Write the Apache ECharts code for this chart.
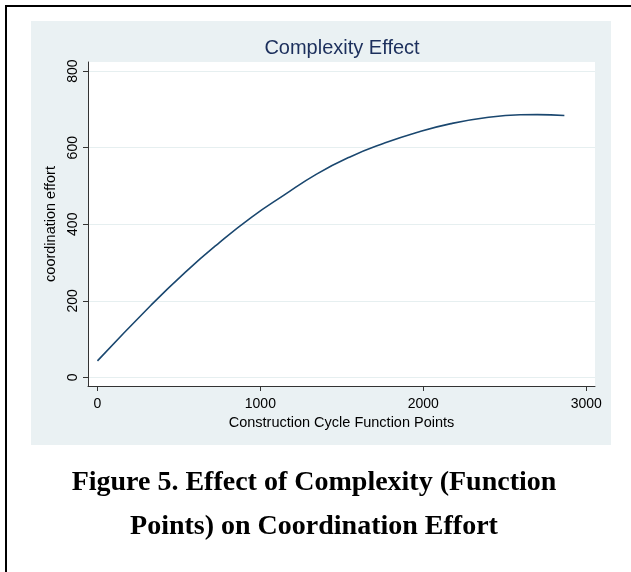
<!DOCTYPE html>
<html><head><meta charset="utf-8">
<script src="https://cdn.jsdelivr.net/npm/echarts@6/dist/echarts.min.js"></script>
<style>html,body{margin:0;padding:0;background:#fff;} #c{width:631px;height:572px;}</style>
</head><body><div id="c"></div>
<script>
const functionPoints = [0, 330, 540, 740, 945, 1145, 1345, 1550, 1755, 1960, 2170, 2390, 2595, 2700, 2866];
const coordinationEffort = [43, 189, 275, 349, 418, 476, 531, 576, 611, 640, 663, 679, 686, 686.5, 684];
const xTicks = [0, 1000, 2000, 3000];
const yTicks = [0, 200, 400, 600, 800];
const chartTitle = 'Complexity Effect';
const xTitle = 'Construction Cycle Function Points';
const yTitle = 'coordination effort';
const captionLines = ['Figure 5. Effect of Complexity (Function', 'Points) on Coordination Effort'];

const chart = echarts.init(document.getElementById('c'), null, {renderer: 'canvas'});
const sans = '"Liberation Sans", Arial, Helvetica, sans-serif';
const serif = '"Liberation Serif", "Times New Roman", serif';
const axisColor = '#333';
const plain = v => String(v);

const option = {
  animation: false,
  backgroundColor: '#fff',
  grid: {left: 88, right: 36, top: 62, bottom: 186, show: true, backgroundColor: '#fff', borderWidth: 0},
  xAxis: {
    type: 'value', min: -58, max: 3054,
    name: xTitle, nameLocation: 'middle', nameGap: 27,
    nameTextStyle: {fontFamily: sans, fontSize: 14.5, color: '#000'},
    axisLine: {show: true, onZero: false, lineStyle: {color: axisColor, width: 1}},
    axisTick: {show: true, customValues: xTicks, length: 5, lineStyle: {color: axisColor}},
    axisLabel: {customValues: xTicks, formatter: plain, fontFamily: sans, fontSize: 14, color: '#000', margin: 11},
    splitLine: {show: false}
  },
  yAxis: {
    type: 'value', min: -22.7, max: 824,
    name: yTitle, nameLocation: 'middle', nameGap: 24,
    nameTextStyle: {fontFamily: sans, fontSize: 14.5, color: '#000'},
    axisLine: {show: true, onZero: false, lineStyle: {color: axisColor, width: 1}},
    axisTick: {show: true, customValues: yTicks, length: 5, lineStyle: {color: axisColor}},
    axisLabel: {customValues: yTicks, formatter: plain, rotate: 90, fontFamily: sans, fontSize: 14, color: '#000', margin: 8},
    splitLine: {show: true, lineStyle: {color: '#e6eff0', width: 1}}
  },
  series: [{
    type: 'line',
    data: functionPoints.map((x, i) => [x, coordinationEffort[i]]),
    smooth: true, showSymbol: false, silent: true,
    lineStyle: {color: '#1a476f', width: 1.6}
  }],
  graphic: [
    {type: 'rect', z: -100, silent: true, shape: {x: 31, y: 21, width: 580, height: 424}, style: {fill: '#eaf1f3'}},
    {type: 'polyline', z: -100, silent: true, shape: {points: [[6, 572], [6, 6], [631, 6]]}, style: {stroke: '#000', lineWidth: 2, fill: null}},
    {type: 'text', x: 342, y: 48, silent: true, style: {text: chartTitle, fill: '#1c2f5c', font: '20px ' + sans, align: 'center', verticalAlign: 'middle', textAlign: 'center', textVerticalAlign: 'middle'}},
    {type: 'text', x: 314, y: 483, silent: true, style: {text: captionLines[0], fill: '#000', font: 'bold 28px ' + serif, align: 'center', verticalAlign: 'middle', textAlign: 'center', textVerticalAlign: 'middle'}},
    {type: 'text', x: 314, y: 527, silent: true, style: {text: captionLines[1], fill: '#000', font: 'bold 28px ' + serif, align: 'center', verticalAlign: 'middle', textAlign: 'center', textVerticalAlign: 'middle'}}
  ]
};
chart.setOption(option);
</script>
</body></html>
